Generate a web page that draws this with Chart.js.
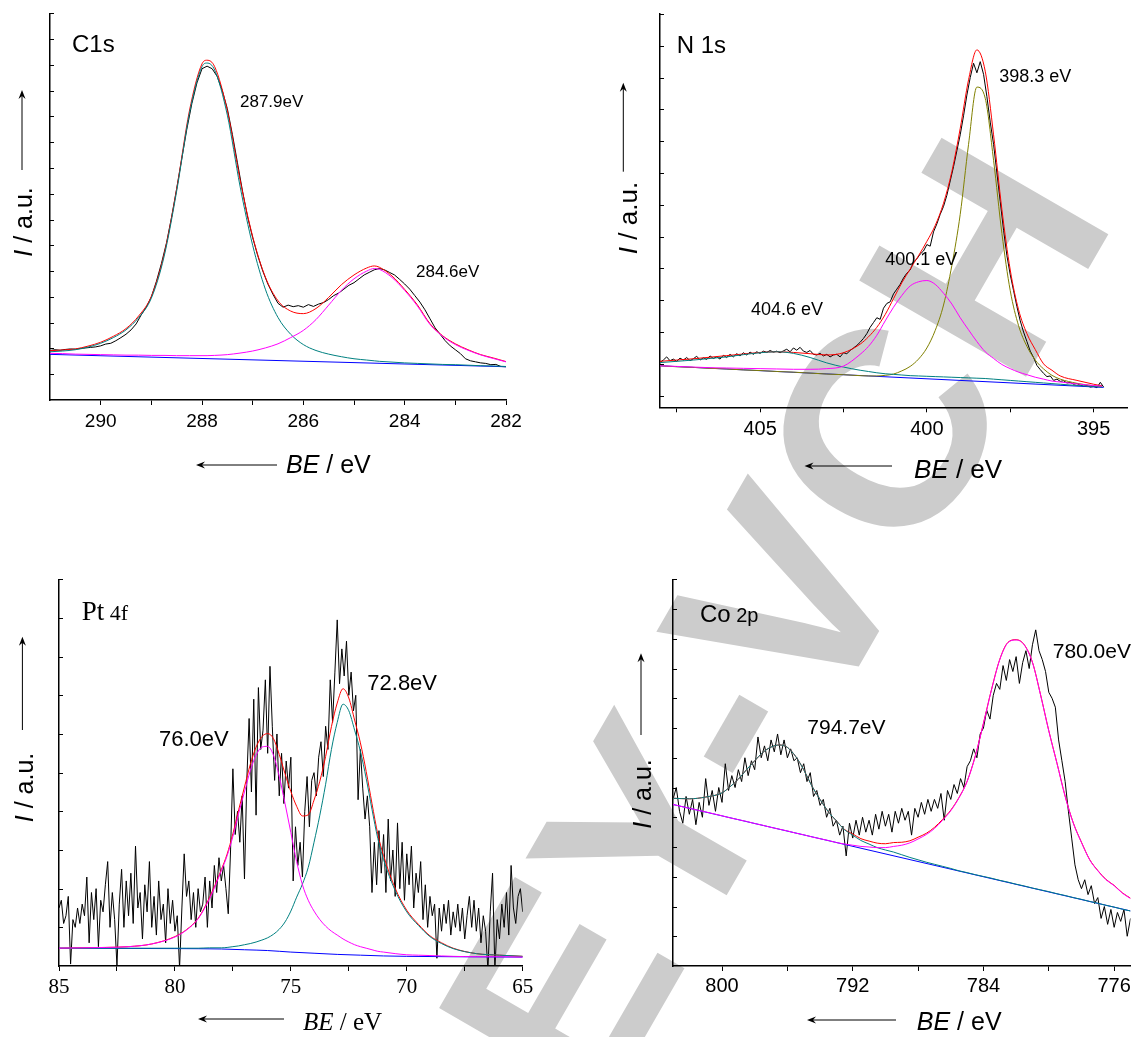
<!DOCTYPE html>
<html>
<head>
<meta charset="utf-8">
<script src="https://cdn.jsdelivr.net/npm/chart.js@4.4.1/dist/chart.umd.min.js"></script>
<style>
  body { margin: 0; background: #fff; }
  #page { position: relative; width: 1137px; height: 1037px; overflow: hidden; }
  canvas { position: absolute; }
</style>
</head>
<body>
<div id="page">
  <canvas id="mark" width="1137" height="1037" style="left:0;top:0"></canvas>
  <canvas id="c1s" width="568" height="500" style="left:0;top:0"></canvas>
  <canvas id="n1s" width="569" height="500" style="left:568px;top:0"></canvas>
  <canvas id="pt4f" width="568" height="497" style="left:0;top:540px"></canvas>
  <canvas id="co2p" width="569" height="497" style="left:568px;top:540px"></canvas>
</div>
<script>
// ---------- C1s ----------
const c1sGrid = [291, 290.75, 290.5, 290.25, 290, 289.75, 289.5, 289.25, 289, 288.75, 288.5, 288.25, 288, 287.9, 287.75, 287.5, 287.25, 287, 286.75, 286.5, 286.25, 286, 285.75, 285.5, 285.25, 285, 284.75, 284.6, 284.5, 284.25, 284, 283.75, 283.5, 283.25, 283, 282.75, 282.5, 282.25, 282];
const c1sTeal = [1.87, 1.9, 1.95, 2.05, 2.2, 2.42, 2.72, 3.2, 3.95, 5.55, 8.1, 11.1, 12.93, 13.07, 12.8, 11.05, 8.3, 6.0, 4.3, 3.2, 2.55, 2.15, 1.92, 1.78, 1.68, 1.6, 1.55, 1.52, 1.5, 1.47, 1.44, 1.42, 1.4, 1.38, 1.37, 1.35, 1.33, 1.32, 1.3];
const c1sPink = [1.81, 1.8, 1.78, 1.77, 1.76, 1.75, 1.74, 1.74, 1.73, 1.73, 1.72, 1.72, 1.72, 1.72, 1.73, 1.76, 1.82, 1.9, 2.02, 2.18, 2.42, 2.7, 3.12, 3.68, 4.25, 4.7, 5.0, 5.1, 5.07, 4.75, 4.25, 3.65, 2.93, 2.47, 2.15, 1.93, 1.75, 1.61, 1.48];
const c1sFit = [1.91, 1.94, 1.98, 2.09, 2.24, 2.47, 2.77, 3.26, 4.02, 5.63, 8.18, 11.2, 13.04, 13.18, 12.93, 11.22, 8.55, 6.34, 4.77, 3.85, 3.45, 3.35, 3.55, 3.98, 4.47, 4.85, 5.12, 5.2, 5.15, 4.81, 4.29, 3.69, 2.96, 2.49, 2.18, 1.95, 1.76, 1.63, 1.49];
const c1sBaseX = [291, 282];
const c1sBase = [1.77, 1.29];
const c1sScanStart = 291, c1sScanStep = 0.1;
const c1sScan = [
  1.92, 1.95, 1.93, 1.96, 1.98, 1.97, 2.0, 2.02, 2.04, 2.06,
  2.1, 2.17, 2.2, 2.3, 2.42, 2.55, 2.72, 2.95, 3.3, 3.6,
  4.0, 4.6, 5.3, 6.1, 7.1, 8.2, 9.35, 10.5, 11.5, 12.3,
  12.85, 12.95, 12.85, 12.55, 12.0, 11.3, 10.3, 9.2, 8.1, 7.1,
  6.3, 5.6, 5.0, 4.5, 4.1, 3.75, 3.6, 3.68, 3.62, 3.66,
  3.6, 3.7, 3.63, 3.72, 3.78, 3.9, 4.05, 4.15, 4.3, 4.45,
  4.55, 4.7, 4.85, 4.95, 5.05, 5.1, 5.05, 4.95, 4.85, 4.68,
  4.5, 4.3, 4.05, 3.8, 3.5, 3.15, 2.8, 2.55, 2.3, 2.1,
  1.95, 1.8, 1.6, 1.52, 1.48, 1.44, 1.42, 1.37, 1.38, 1.3,
  1.29
];
const c1sTicks = [282, 283, 284, 285, 286, 287, 288, 289, 290];
const c1sLabels = [282, 284, 286, 288, 290];
const c1sYTicks = [1, 2, 3, 4, 5, 6, 7, 8, 9, 10, 11, 12, 13, 14, 15];

// ---------- N1s ----------
const n1sGrid = [408, 407.5, 407, 406.5, 406, 405.5, 405, 404.5, 404, 403.5, 403, 402.5, 402, 401.75, 401.5, 401.25, 401, 400.75, 400.5, 400.25, 400, 399.75, 399.5, 399.25, 399, 398.75, 398.5, 398.25, 398, 397.75, 397.5, 397.25, 397, 396.75, 396.5, 396.25, 396, 395.5, 395, 394.75];
const n1sTeal = [1.04, 1.08, 1.12, 1.17, 1.22, 1.29, 1.35, 1.38, 1.33, 1.2, 1.03, 0.9, 0.8, 0.76, 0.72, 0.69, 0.67, 0.65, 0.63, 0.62, 0.61, 0.6, 0.59, 0.58, 0.57, 0.56, 0.55, 0.54, 0.52, 0.5, 0.48, 0.46, 0.44, 0.42, 0.4, 0.38, 0.36, 0.32, 0.29, 0.27];
const n1sPink = [0.94, 0.92, 0.9, 0.88, 0.87, 0.86, 0.85, 0.84, 0.83, 0.83, 0.85, 0.93, 1.3, 1.55, 1.9, 2.35, 2.78, 3.15, 3.45, 3.58, 3.62, 3.5, 3.22, 2.88, 2.45, 2.07, 1.7, 1.38, 1.17, 0.98, 0.85, 0.74, 0.66, 0.58, 0.52, 0.46, 0.43, 0.37, 0.32, 0.3];
const n1sOlive = [0.94, 0.91, 0.89, 0.86, 0.84, 0.81, 0.79, 0.76, 0.74, 0.71, 0.68, 0.66, 0.63, 0.62, 0.62, 0.64, 0.68, 0.78, 0.92, 1.15, 1.5, 2.05, 2.85, 4.1, 5.7, 7.9, 9.7, 9.35, 7.4, 5.1, 3.3, 2.2, 1.55, 1.12, 0.84, 0.64, 0.52, 0.39, 0.31, 0.29];
const n1sFit = [1.08, 1.12, 1.16, 1.21, 1.26, 1.31, 1.36, 1.38, 1.36, 1.32, 1.28, 1.35, 1.62, 1.85, 2.15, 2.55, 3.05, 3.55, 3.98, 4.4, 4.85, 5.35, 6.05, 7.05, 8.4, 9.93, 10.87, 10.2, 8.2, 5.85, 3.95, 2.7, 1.95, 1.45, 1.0, 0.8, 0.62, 0.48, 0.36, 0.31];
const n1sBaseX = [408, 394.7];
const n1sBase = [0.94, 0.26];
const n1sScanStart = 408, n1sScanStep = 0.1;
const n1sScan = [
  1.05, 1.12, 1.22, 1.1, 1.15, 1.08, 1.18, 1.12, 1.2, 1.1,
  1.16, 1.24, 1.12, 1.19, 1.14, 1.25, 1.17, 1.22, 1.15, 1.27,
  1.2, 1.3, 1.22, 1.32, 1.25, 1.35, 1.28, 1.37, 1.3, 1.38,
  1.33, 1.4, 1.36, 1.42, 1.37, 1.4, 1.35, 1.41, 1.46, 1.38,
  1.5, 1.43, 1.52, 1.4, 1.36, 1.42, 1.3, 1.28, 1.33, 1.25,
  1.3, 1.22, 1.28, 1.3, 1.22, 1.35, 1.32, 1.42, 1.5, 1.58,
  1.68, 1.8, 1.95, 2.15, 2.3, 2.45, 2.4, 2.75, 2.9, 2.95,
  3.2, 3.35, 3.5, 3.7, 3.85, 3.95, 4.2, 4.3, 4.45, 4.55,
  4.75, 4.7, 5.15, 5.4, 5.7, 5.95, 6.3, 6.75, 7.2, 7.7,
  8.2, 8.8, 9.45, 10.0, 10.45, 10.15, 10.5, 10.1, 9.4, 8.6,
  7.9, 7.0, 6.1, 5.2, 4.4, 3.8, 3.3, 2.8, 2.35, 2.0,
  1.7, 1.4, 1.2, 0.95, 0.82, 0.7, 0.6, 0.62, 0.48, 0.52,
  0.45, 0.47, 0.4, 0.42, 0.36, 0.38, 0.33, 0.3, 0.32, 0.27,
  0.29, 0.25, 0.42, 0.27
];
const n1sTicks = [395, 397.5, 400, 402.5, 405, 407.5];
const n1sLabels = [395, 400, 405];
const n1sYTicks = [0, 1, 2, 3, 4, 5, 6, 7, 8, 9, 10, 11, 12];

// ---------- Pt 4f ----------
const ptGrid = [85, 84, 83, 82, 81, 80, 79.5, 79, 78.5, 78, 77.75, 77.5, 77.25, 77, 76.75, 76.5, 76.25, 76, 75.75, 75.5, 75.25, 75, 74.75, 74.5, 74.25, 74, 73.75, 73.5, 73.25, 73, 72.75, 72.5, 72.25, 72, 71.75, 71.5, 71.25, 71, 70.5, 70, 69.5, 69, 68.5, 68, 67, 66, 65];
const ptPink = [0.46, 0.47, 0.48, 0.5, 0.57, 0.75, 0.93, 1.22, 1.75, 2.46, 2.85, 3.35, 3.95, 4.5, 5.05, 5.45, 5.66, 5.68, 5.45, 4.9, 4.2, 3.45, 2.7, 2.1, 1.7, 1.42, 1.2, 1.03, 0.9, 0.8, 0.7, 0.62, 0.55, 0.5, 0.46, 0.42, 0.38, 0.36, 0.32, 0.29, 0.28, 0.27, 0.26, 0.25, 0.24, 0.24, 0.23];
const ptTeal = [0.46, 0.46, 0.46, 0.46, 0.46, 0.46, 0.46, 0.46, 0.47, 0.47, 0.48, 0.5, 0.52, 0.55, 0.58, 0.62, 0.67, 0.73, 0.82, 0.95, 1.14, 1.42, 1.78, 2.12, 2.55, 3.2, 3.9, 4.7, 5.6, 6.3, 6.77, 6.6, 6.1, 5.55, 4.85, 4.05, 3.3, 2.75, 1.95, 1.4, 1.05, 0.76, 0.58, 0.45, 0.32, 0.28, 0.25];
const ptFit = [0.46, 0.47, 0.48, 0.5, 0.57, 0.76, 0.94, 1.23, 1.78, 2.49, 2.89, 3.42, 4.04, 4.63, 5.21, 5.66, 5.93, 6.01, 5.88, 5.47, 4.97, 4.51, 4.13, 3.88, 3.91, 4.29, 4.78, 5.42, 6.19, 6.8, 7.17, 6.93, 6.36, 5.77, 5.03, 4.2, 3.41, 2.85, 2.01, 1.44, 1.08, 0.78, 0.6, 0.46, 0.32, 0.28, 0.25];
const ptBaseX = [85, 80, 78, 77, 76, 75, 74, 73, 72, 71, 70, 68, 65];
const ptBase = [0.46, 0.45, 0.44, 0.42, 0.4, 0.36, 0.33, 0.3, 0.28, 0.26, 0.25, 0.24, 0.23];
const ptScanStart = 85, ptScanStep = 0.1;
const ptScan = [
  1.5, 1.7, 1.1, 1.3, 1.8, 0.05, 1.2, 1.0, 1.5, 1.1,
  1.6, 1.3, 2.3, 0.6, 1.9, 1.2, 2.0, 0.5, 1.7, 1.4,
  2.1, 2.7, 1.0, 1.9, 1.2, 0.0, 1.6, 2.5, 1.0, 2.2,
  1.3, 2.4, 1.1, 3.1, 1.5, 1.9, 0.7, 2.1, 1.4, 2.7,
  1.0, 1.8, 0.8, 2.2, 1.2, 1.6, 0.6, 2.0, 1.1, 1.7,
  0.9, 1.3, -0.05, 1.5, 2.9, 1.8, 2.2, 1.2, 1.9, 1.0,
  2.0, 1.4, 1.6, 2.3, 1.0, 2.2, 1.5, 2.6, 1.9, 2.8,
  2.2, 2.6, 2.0, 1.35, 3.0, 5.1, 3.4, 4.0, 3.2, 4.4,
  2.25, 4.8, 6.4, 4.5, 6.9, 3.9, 7.2, 5.6, 6.1, 7.4,
  5.5, 7.75, 6.2, 4.8, 6.0, 4.4, 5.5, 4.2, 5.3, 4.6,
  5.4, 2.2, 3.6, 2.6, 3.2, 2.3, 4.0, 4.9, 3.6, 4.8,
  5.0, 4.4, 5.4, 5.8, 4.9, 6.2, 5.6, 7.4, 6.3, 7.6,
  8.95, 7.3, 8.2, 7.5, 8.4, 7.0, 7.6, 6.6, 7.0, 4.3,
  5.6, 4.6, 3.8, 4.4, 3.6, 1.9, 3.2, 2.1, 3.5, 2.4,
  3.4, 1.9, 3.8, 2.2, 3.0, 1.8, 3.7, 2.0, 3.2, 1.7,
  2.9, 2.1, 3.1, 1.5, 2.4, 1.9, 2.7, 1.2, 2.1, 1.0,
  1.8, 1.3, 1.6, 0.2, 1.5, 0.9, 1.6, 1.1, 1.7, 0.8,
  1.4, 1.0, 1.6, 0.9, 1.5, 0.7, 1.3, 1.8, 1.0, 1.7,
  0.9, 1.5, 0.6, 1.3, 0.9, -0.1, 1.4, 2.4, -0.1, 1.2,
  0.7, 1.6, 1.0, 1.9, 0.8, 2.6, 1.5, 1.1, 1.8, 2.0,
  1.4
];
const ptTicks = [65, 67.5, 70, 72.5, 75, 77.5, 80, 82.5, 85];
const ptLabels = [65, 70, 75, 80, 85];
const ptYTicks = [1, 2, 3, 4, 5, 6, 7, 8, 9, 10];

// ---------- Co 2p ----------
const coGrid = [803, 802, 801, 800, 799.5, 799, 798.5, 798, 797.5, 797, 796.5, 796, 795.5, 795, 794.5, 794, 793.5, 793, 792.5, 792, 791.5, 791, 790.5, 790, 789.5, 789, 788.5, 788, 787.5, 787, 786.5, 786, 785.5, 785, 784.5, 784, 783.5, 783, 782.5, 782, 781.5, 781, 780.5, 780, 779.5, 779, 778.5, 778, 777.5, 777, 776.5, 776, 775.5, 775];
const coTeal = [5.64, 5.62, 5.68, 5.82, 6.03, 6.28, 6.6, 6.9, 7.18, 7.36, 7.43, 7.35, 7.05, 6.6, 6.05, 5.6, 5.19, 4.88, 4.58, 4.4, 4.22, 4.1, 3.98, 3.9, 3.83, 3.74, 3.65, 3.57, 3.49, 3.42, 3.35, 3.28, 3.2, 3.14, 3.07, 3.01, 2.95, 2.88, 2.82, 2.75, 2.69, 2.62, 2.56, 2.5, 2.43, 2.37, 2.3, 2.24, 2.17, 2.11, 2.04, 1.98, 1.91, 1.85];
const coPink = [5.43, 5.3, 5.18, 5.05, 4.98, 4.92, 4.86, 4.79, 4.73, 4.66, 4.6, 4.54, 4.47, 4.41, 4.34, 4.28, 4.22, 4.15, 4.1, 4.06, 4.02, 4.0, 3.98, 3.98, 4.02, 4.06, 4.14, 4.27, 4.42, 4.62, 4.9, 5.22, 5.65, 6.2, 7.05, 8.15, 9.3, 10.3, 10.87, 10.96, 10.79, 10.2, 9.1, 7.9, 6.81, 5.7, 4.8, 4.15, 3.57, 3.2, 2.9, 2.7, 2.45, 2.27];
const coFit = [5.64, 5.62, 5.68, 5.82, 6.03, 6.28, 6.6, 6.9, 7.18, 7.36, 7.43, 7.35, 7.05, 6.6, 6.05, 5.6, 5.19, 4.88, 4.59, 4.44, 4.28, 4.2, 4.13, 4.11, 4.15, 4.16, 4.21, 4.33, 4.46, 4.66, 4.93, 5.24, 5.66, 6.21, 7.06, 8.16, 9.31, 10.31, 10.88, 10.97, 10.8, 10.21, 9.11, 7.91, 6.82, 5.71, 4.81, 4.16, 3.58, 3.21, 2.91, 2.71, 2.46, 2.28];
const coBaseX = [803, 775];
const coBase = [5.43, 1.85];
const coScanStart = 803, coScanStep = 0.2;
const coScan = [
  5.6, 6.0, 5.2, 4.8, 5.7, 5.1, 5.6, 4.75, 5.5, 5.0,
  6.3, 5.4, 5.9, 5.2, 6.0, 5.5, 6.8, 5.9, 6.4, 6.0,
  6.6, 6.2, 7.0, 6.4, 6.9, 6.6, 7.7, 7.0, 7.4, 6.9,
  7.6, 7.2, 7.8, 7.1, 7.6, 7.0, 7.3, 6.9, 7.0, 6.5,
  6.8, 6.2, 6.5, 5.7, 5.9, 5.4, 5.6, 5.0, 5.3, 4.7,
  4.9, 4.4, 4.7, 3.7, 4.8, 4.3, 4.9, 4.4, 5.0, 4.5,
  4.9, 4.4, 5.1, 4.6, 5.2, 4.7, 5.1, 4.5, 5.2, 4.8,
  5.3, 4.9, 5.2, 4.4, 5.3, 5.0, 5.5, 5.1, 5.6, 5.2,
  5.6, 5.3, 5.8, 4.9, 5.9, 5.6, 6.1, 5.8, 6.3, 6.0,
  6.7, 6.9, 7.3, 7.0, 7.8, 8.0, 8.6, 8.3, 9.1, 9.5,
  9.3, 10.1, 9.6, 10.3, 9.9, 10.4, 9.5, 10.2, 10.6, 10.0,
  10.8, 11.3, 10.6, 10.3, 9.9, 9.2, 9.0, 8.7, 7.6, 6.9,
  6.2, 5.2, 4.3, 3.4, 2.9, 2.6, 2.9, 2.4, 2.7, 2.1,
  2.3, 1.6, 2.0, 1.4, 1.9, 1.3, 1.8, 1.5, 1.9, 1.0,
  1.6
];
const coTicks = [776, 780, 784, 788, 792, 796, 800];
const coLabels = [776, 784, 792, 800];
const coYTicks = [1, 2, 3, 4, 5, 6, 7, 8, 9, 10, 11, 12, 13];

// ---------- drawing ----------
const sans = '"Liberation Sans", Arial, Helvetica, sans-serif';
const serif = '"Liberation Serif", "Times New Roman", Times, serif';

function pts(xs, ys) { return ys.map((y, i) => ({ x: xs[i], y: y })); }
function scan(start, step, ys) { return ys.map((y, i) => ({ x: +(start - i * step).toFixed(2), y: y })); }
function curve(label, data, color, order, smooth) {
  return {
    label: label, data: data, borderColor: color, borderWidth: 1, pointRadius: 0,
    fill: false, order: order, tension: 0,
    cubicInterpolationMode: smooth ? 'monotone' : 'default'
  };
}

// texts, titles and arrows, canvas coordinates of each panel
const panelText = {
  c1s: {
    notes: [
      { x: 72, y: 52, runs: [['C1s', `24px ${sans}`]] },
      { x: 240, y: 107, runs: [['287.9eV', `17px ${sans}`]] },
      { x: 416, y: 277, runs: [['284.6eV', `17px ${sans}`]] }
    ],
    xTitle: { x: 286, y: 473, runs: [['BE', `italic 25px ${sans}`], [' / eV', `25px ${sans}`]], arrow: [277, 196, 465] },
    yTitle: { x: 32, y: 222, runs: [['I', `italic 25px ${sans}`], [' / a.u.', `25px ${sans}`]], arrow: [22, 170, 90] }
  },
  n1s: {
    notes: [
      { x: 108.7, y: 53.3, runs: [['N 1s', `24px ${sans}`]] },
      { x: 431.3, y: 81.7, runs: [['398.3 eV', `18px ${sans}`]] },
      { x: 317.3, y: 265, runs: [['400.1 eV', `18px ${sans}`]] },
      { x: 183, y: 315, runs: [['404.6 eV', `18px ${sans}`]] }
    ],
    xTitle: { x: 346, y: 478, runs: [['BE', `italic 26px ${sans}`], [' / eV', `26px ${sans}`]], arrow: [324, 236.5, 466] },
    yTitle: { x: 68.8, y: 218, runs: [['I', `italic 26px ${sans}`], [' / a.u.', `26px ${sans}`]], arrow: [55.3, 171.7, 82.7] }
  },
  pt4f: {
    notes: [
      { x: 81.7, y: 80, runs: [['Pt', `27px ${serif}`], [' 4f', `22px ${serif}`]] },
      { x: 159, y: 205.7, runs: [['76.0eV', `22px ${sans}`]] },
      { x: 367.3, y: 150, runs: [['72.8eV', `22px ${sans}`]] }
    ],
    xTitle: { x: 303, y: 490, runs: [['BE', `italic 25px ${serif}`], [' / eV', `25px ${serif}`]], arrow: [284, 198, 479] },
    yTitle: { x: 32.7, y: 247.5, runs: [['I', `italic 25px ${sans}`], [' / a.u.', `25px ${sans}`]], arrow: [22.4, 190, 96.7] }
  },
  co2p: {
    notes: [
      { x: 132, y: 81.7, runs: [['Co', `24px ${sans}`], [' 2p', `20px ${sans}`]] },
      { x: 239.3, y: 194, runs: [['794.7eV', `21px ${sans}`]] },
      { x: 484.7, y: 118.3, runs: [['780.0eV', `21px ${sans}`]] }
    ],
    xTitle: { x: 348.8, y: 490, runs: [['BE', `italic 25px ${sans}`], [' / eV', `25px ${sans}`]], arrow: [328, 239, 480] },
    yTitle: { x: 83.4, y: 254, runs: [['I', `italic 25px ${sans}`], [' / a.u.', `25px ${sans}`]], arrow: [73, 195, 113.3] }
  }
};

function runsWidth(ctx, runs) {
  let w = 0;
  runs.forEach(r => { ctx.font = r[1]; w += ctx.measureText(r[0]).width; });
  return w;
}
function drawRuns(ctx, runs, x, y) {
  runs.forEach(r => { ctx.font = r[1]; ctx.fillText(r[0], x, y); x += ctx.measureText(r[0]).width; });
}
function arrow(ctx, x1, y1, x2, y2) {
  const a = Math.atan2(y2 - y1, x2 - x1), L = 9, W = 3.5;
  const c = Math.cos(a), s = Math.sin(a);
  ctx.beginPath(); ctx.moveTo(x1, y1); ctx.lineTo(x2 - 5 * c, y2 - 5 * s); ctx.stroke();
  ctx.beginPath();
  ctx.moveTo(x2, y2);
  ctx.lineTo(x2 - L * c + W * s, y2 - L * s - W * c);
  ctx.lineTo(x2 - 6 * c, y2 - 6 * s);
  ctx.lineTo(x2 - L * c - W * s, y2 - L * s + W * c);
  ctx.closePath(); ctx.fill();
}

const decor = {
  id: 'decor',
  afterDraw(chart) {
    const t = panelText[chart.canvas.id];
    const ctx = chart.ctx, area = chart.chartArea, ys = chart.scales.y;
    ctx.save();
    ctx.strokeStyle = '#000'; ctx.fillStyle = '#000'; ctx.lineWidth = 1;
    // small inward ticks on the intensity axis
    ys.ticks.forEach(tk => {
      const py = Math.round(ys.getPixelForValue(tk.value)) + 0.5;
      ctx.beginPath(); ctx.moveTo(area.left, py); ctx.lineTo(area.left + 4, py); ctx.stroke();
    });
    ctx.textAlign = 'left'; ctx.textBaseline = 'alphabetic';
    t.notes.forEach(n => drawRuns(ctx, n.runs, n.x, n.y));
    drawRuns(ctx, t.xTitle.runs, t.xTitle.x, t.xTitle.y);
    arrow(ctx, t.xTitle.arrow[0], t.xTitle.arrow[2], t.xTitle.arrow[1], t.xTitle.arrow[2]);
    ctx.save();
    ctx.translate(t.yTitle.x, t.yTitle.y);
    ctx.rotate(-Math.PI / 2);
    drawRuns(ctx, t.yTitle.runs, -runsWidth(ctx, t.yTitle.runs) / 2, 0);
    ctx.restore();
    arrow(ctx, t.yTitle.arrow[0], t.yTitle.arrow[1], t.yTitle.arrow[0], t.yTitle.arrow[2]);
    ctx.restore();
  }
};

function makePanel(id, cfg) {
  new Chart(document.getElementById(id), {
    type: 'line',
    data: { datasets: cfg.datasets },
    options: {
      responsive: false,
      animation: false,
      events: [],
      layout: { padding: cfg.pad, autoPadding: false },
      plugins: { legend: { display: false }, tooltip: { enabled: false } },
      scales: {
        x: {
          type: 'linear', reverse: true, min: cfg.xMin, max: cfg.xMax,
          afterBuildTicks: s => { s.ticks = cfg.xTicks.map(v => ({ value: v })); },
          afterFit: s => { s.height = 40; },
          ticks: {
            callback: v => cfg.xLabels.includes(v) ? String(v) : '',
            color: '#000', font: cfg.tickFont, padding: cfg.tickPad,
            autoSkip: false, maxRotation: 0
          },
          grid: { drawOnChartArea: false, drawTicks: true, tickLength: 5, color: '#000', lineWidth: 1 },
          border: { display: true, color: '#000', width: 1.5 }
        },
        y: {
          type: 'linear', min: cfg.yMin, max: cfg.yMax,
          afterBuildTicks: s => { s.ticks = cfg.yTicks.map(v => ({ value: v })); },
          afterFit: s => { s.width = 0; },
          ticks: { display: false },
          grid: { display: false },
          border: { display: true, color: '#000', width: 1.5 }
        }
      }
    },
    plugins: [decor]
  });
}

makePanel('c1s', {
  pad: { left: 50, top: 13.3, right: 62, bottom: 60 },
  xMin: 282, xMax: 291, xTicks: c1sTicks, xLabels: c1sLabels,
  yMin: 0, yMax: 15, yTicks: c1sYTicks,
  tickFont: { family: sans, size: 19 }, tickPad: 5,
  datasets: [
    curve('C1s data', scan(c1sScanStart, c1sScanStep, c1sScan), '#000000', 6, false),
    curve('background', pts(c1sBaseX, c1sBase), '#0000ff', 5, false),
    curve('envelope', pts(c1sGrid, c1sFit), '#ff0000', 4, true),
    curve('287.9 eV', pts(c1sGrid, c1sTeal), '#008080', 2, true),
    curve('284.6 eV', pts(c1sGrid, c1sPink), '#ff00ff', 1, true)
  ]
});

makePanel('n1s', {
  pad: { left: 92, top: 13.3, right: 10, bottom: 52.7 },
  xMin: 394, xMax: 408, xTicks: n1sTicks, xLabels: n1sLabels,
  yMin: -0.365, yMax: 12.02, yTicks: n1sYTicks,
  tickFont: { family: sans, size: 20 }, tickPad: 5,
  datasets: [
    curve('N1s data', scan(n1sScanStart, n1sScanStep, n1sScan), '#000000', 6, false),
    curve('background', pts(n1sBaseX, n1sBase), '#0000ff', 5, false),
    curve('envelope', pts(n1sGrid, n1sFit), '#ff0000', 4, true),
    curve('398.3 eV', pts(n1sGrid, n1sOlive), '#808000', 3, true),
    curve('404.6 eV', pts(n1sGrid, n1sTeal), '#008080', 2, true),
    curve('400.1 eV', pts(n1sGrid, n1sPink), '#ff00ff', 1, true)
  ]
});

makePanel('pt4f', {
  pad: { left: 59, top: 39.3, right: 45.3, bottom: 31 },
  xMin: 65, xMax: 85, xTicks: ptTicks, xLabels: ptLabels,
  yMin: 0, yMax: 10, yTicks: ptYTicks,
  tickFont: { family: serif, size: 21 }, tickPad: 4,
  datasets: [
    curve('Pt4f data', scan(ptScanStart, ptScanStep, ptScan), '#000000', 6, false),
    curve('background', pts(ptBaseX, ptBase), '#0000ff', 5, true),
    curve('envelope', pts(ptGrid, ptFit), '#ff0000', 4, true),
    curve('72.8 eV', pts(ptGrid, ptTeal), '#008080', 2, true),
    curve('76.0 eV', pts(ptGrid, ptPink), '#ff00ff', 1, true)
  ]
});

makePanel('co2p', {
  pad: { left: 105, top: 39.3, right: 6.5, bottom: 31 },
  xMin: 775, xMax: 803, xTicks: coTicks, xLabels: coLabels,
  yMin: 0, yMax: 13, yTicks: coYTicks,
  tickFont: { family: sans, size: 20 }, tickPad: 3.5,
  datasets: [
    curve('Co2p data', scan(coScanStart, coScanStep, coScan), '#000000', 6, false),
    curve('background', pts(coBaseX, coBase), '#0000ff', 5, false),
    curve('envelope', pts(coGrid, coFit), '#ff0000', 4, true),
    curve('794.7 eV', pts(coGrid, coTeal), '#008080', 2, true),
    curve('780.0 eV', pts(coGrid, coPink), '#ff00ff', 1, true)
  ]
});

// publisher watermark behind the panels
const wm = document.getElementById('mark').getContext('2d');
wm.save();
wm.translate(340, 1565);
wm.rotate(-60 * Math.PI / 180);
wm.font = `bold 280px ${sans}`;
wm.fillStyle = '#cccccc';
wm.fillText('WILEY-VCH', 0, 0);
wm.restore();
</script>
</body>
</html>
